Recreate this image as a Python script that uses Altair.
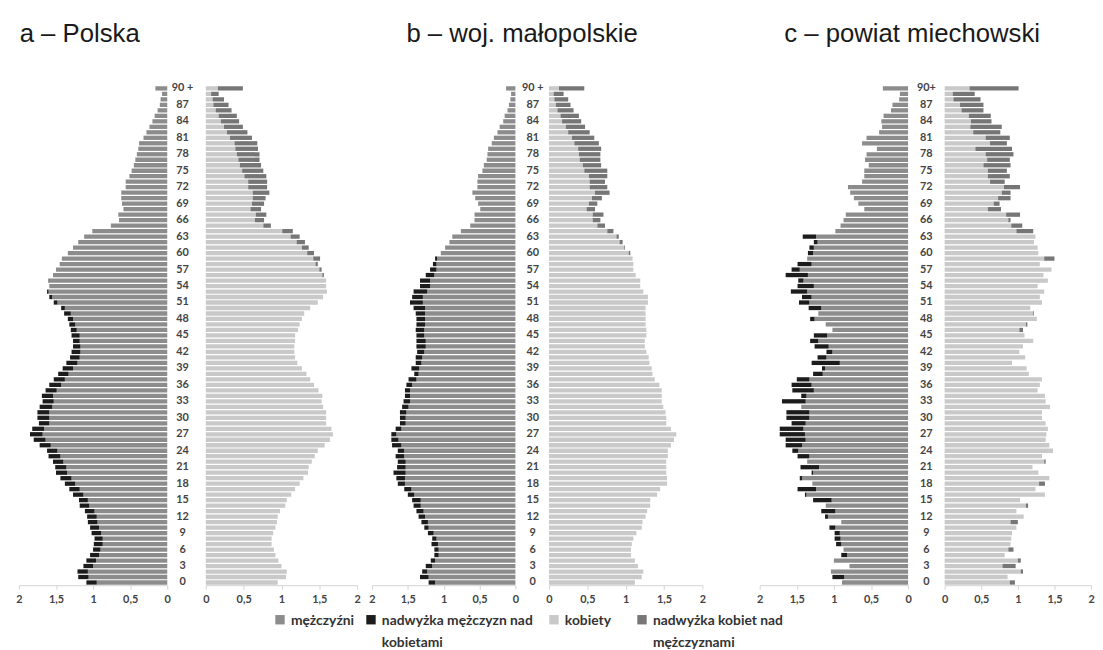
import altair as alt
import pandas as pd

ages = list(range(91))
age_ticks = list(range(0, 91, 3))
x_ticks = [0, 0.5, 1, 1.5, 2]

titles = ["a – Polska", "b – woj. małopolskie", "c – powiat miechowski"]

cats_m = ["mężczyźni", "nadwyżka mężczyzn nad kobietami"]
cats_f = ["kobiety", "nadwyżka kobiet nad mężczyznami"]
colors_m = ["#8c8c8c", "#1c1c1c"]
colors_f = ["#c9c9c9", "#767676"]

# values (% of population) for ages 0..90+
male_a = [1.09, 1.20, 1.21, 1.13, 1.09, 1.04, 1.00, 0.99, 0.98, 1.02,
          1.04, 1.07, 1.08, 1.11, 1.18, 1.19, 1.27, 1.32, 1.38, 1.44,
          1.50, 1.51, 1.54, 1.60, 1.62, 1.72, 1.80, 1.85, 1.82, 1.73,
          1.75, 1.75, 1.72, 1.68, 1.69, 1.64, 1.59, 1.53, 1.47, 1.41,
          1.36, 1.31, 1.29, 1.27, 1.27, 1.29, 1.30, 1.32, 1.34, 1.39,
          1.43, 1.53, 1.59, 1.62, 1.59, 1.60, 1.54, 1.50, 1.45, 1.42,
          1.34, 1.27, 1.20, 1.12, 1.01, 0.76, 0.65, 0.66, 0.59, 0.61,
          0.62, 0.62, 0.56, 0.56, 0.51, 0.48, 0.45, 0.43, 0.41, 0.39,
          0.38, 0.32, 0.28, 0.24, 0.20, 0.17, 0.13, 0.10, 0.09, 0.07,
          0.16]
female_a = [0.95, 1.06, 1.07, 1.00, 0.96, 0.92, 0.90, 0.87, 0.87, 0.89,
            0.92, 0.94, 0.95, 0.98, 1.05, 1.07, 1.13, 1.18, 1.24, 1.29,
            1.35, 1.36, 1.40, 1.44, 1.48, 1.57, 1.64, 1.68, 1.66, 1.59,
            1.59, 1.59, 1.55, 1.53, 1.54, 1.49, 1.43, 1.38, 1.33, 1.27,
            1.21, 1.18, 1.17, 1.17, 1.18, 1.18, 1.22, 1.24, 1.27, 1.30,
            1.38, 1.48, 1.55, 1.60, 1.59, 1.59, 1.56, 1.53, 1.48, 1.51,
            1.43, 1.36, 1.31, 1.24, 1.15, 0.86, 0.77, 0.80, 0.73, 0.77,
            0.79, 0.84, 0.81, 0.81, 0.80, 0.76, 0.73, 0.71, 0.71, 0.69,
            0.68, 0.61, 0.55, 0.49, 0.44, 0.41, 0.34, 0.30, 0.24, 0.17,
            0.49]
male_b = [1.21, 1.33, 1.30, 1.25, 1.18, 1.13, 1.13, 1.17, 1.16, 1.22,
          1.27, 1.31, 1.35, 1.38, 1.42, 1.44, 1.50, 1.55, 1.64, 1.66,
          1.70, 1.65, 1.64, 1.67, 1.64, 1.72, 1.73, 1.73, 1.67, 1.61,
          1.61, 1.61, 1.58, 1.56, 1.54, 1.54, 1.52, 1.49, 1.41, 1.45,
          1.39, 1.39, 1.37, 1.38, 1.38, 1.38, 1.39, 1.38, 1.38, 1.39,
          1.42, 1.47, 1.44, 1.42, 1.33, 1.33, 1.25, 1.19, 1.15, 1.12,
          1.04, 0.98, 0.92, 0.88, 0.76, 0.63, 0.57, 0.57, 0.49, 0.52,
          0.56, 0.60, 0.53, 0.53, 0.52, 0.46, 0.44, 0.40, 0.39, 0.38,
          0.33, 0.30, 0.25, 0.22, 0.17, 0.15, 0.11, 0.09, 0.07, 0.06,
          0.13]
female_b = [1.12, 1.21, 1.23, 1.16, 1.12, 1.07, 1.07, 1.08, 1.10, 1.14,
            1.21, 1.22, 1.26, 1.28, 1.32, 1.32, 1.41, 1.45, 1.54, 1.54,
            1.53, 1.53, 1.53, 1.55, 1.55, 1.59, 1.63, 1.66, 1.59, 1.53,
            1.53, 1.52, 1.49, 1.47, 1.47, 1.47, 1.44, 1.38, 1.35, 1.34,
            1.31, 1.30, 1.27, 1.25, 1.25, 1.27, 1.27, 1.26, 1.26, 1.26,
            1.26, 1.29, 1.29, 1.23, 1.19, 1.19, 1.13, 1.10, 1.10, 1.09,
            1.06, 0.99, 0.96, 0.91, 0.84, 0.73, 0.67, 0.71, 0.60, 0.63,
            0.69, 0.79, 0.76, 0.73, 0.76, 0.76, 0.68, 0.67, 0.67, 0.68,
            0.65, 0.59, 0.53, 0.47, 0.42, 0.39, 0.32, 0.28, 0.25, 0.19,
            0.46]
male_c = [0.89, 1.02, 1.04, 0.79, 1.00, 0.90, 0.87, 0.97, 0.99, 0.99,
          1.06, 0.90, 1.12, 1.17, 1.11, 1.28, 1.39, 1.49, 1.29, 1.46,
          1.30, 1.45, 1.36, 1.49, 1.56, 1.65, 1.65, 1.73, 1.73, 1.57,
          1.64, 1.64, 1.44, 1.70, 1.44, 1.56, 1.57, 1.50, 1.28, 1.16,
          1.30, 1.22, 1.10, 1.26, 1.32, 1.27, 1.02, 1.11, 1.32, 1.21,
          1.34, 1.47, 1.43, 1.58, 1.49, 1.48, 1.65, 1.57, 1.49, 1.36,
          1.35, 1.33, 1.27, 1.42, 0.98, 0.91, 0.87, 0.84, 0.59, 0.67,
          0.73, 0.78, 0.81, 0.62, 0.59, 0.59, 0.53, 0.58, 0.56, 0.42,
          0.62, 0.56, 0.39, 0.35, 0.36, 0.33, 0.23, 0.21, 0.12, 0.11,
          0.34]
female_c = [0.96, 0.86, 1.07, 0.97, 1.04, 0.82, 0.94, 0.90, 0.91, 0.92,
            0.98, 1.00, 1.08, 0.98, 1.14, 1.03, 1.37, 1.24, 1.37, 1.43,
            1.28, 1.20, 1.38, 1.33, 1.48, 1.43, 1.38, 1.39, 1.41, 1.38,
            1.33, 1.33, 1.44, 1.38, 1.37, 1.27, 1.30, 1.33, 1.15, 1.12,
            0.92, 1.10, 1.02, 1.07, 1.21, 1.09, 1.07, 1.13, 1.26, 1.22,
            1.17, 1.33, 1.30, 1.36, 1.27, 1.41, 1.35, 1.46, 1.30, 1.50,
            1.28, 1.27, 1.22, 1.24, 1.21, 1.06, 0.90, 1.03, 0.77, 0.75,
            0.90, 0.90, 1.03, 0.82, 0.89, 0.85, 0.90, 0.89, 0.94, 0.92,
            0.85, 0.89, 0.76, 0.78, 0.64, 0.63, 0.53, 0.53, 0.49, 0.41,
            1.01]

LABEL_FONT = "Lato"
TITLE_FONT = "Liberation Sans, Arial, sans-serif"
H = 505
# square legend swatch drawn slightly below its anchor so it lines up with the first text line
SWATCH = "M-1,0.25H1V2.25H-1Z"

LEGEND_EXPR = ("datum.label == 'nadwyżka mężczyzn nad kobietami' ? ['nadwyżka mężczyzn nad', 'kobietami'] : "
               "datum.label == 'nadwyżka kobiet nad mężczyznami' ? ['nadwyżka kobiet nad', 'mężczyznami'] : "
               "[datum.label, '']")


def make_legend(lx, pad):
    return alt.Legend(
        orient="none", legendX=lx, legendY=527, direction="horizontal", title=None,
        symbolType=SWATCH, symbolSize=90, symbolStrokeWidth=0,
        labelFont=LABEL_FONT, labelFontSize=14, labelFontWeight="bold", labelColor="#333333",
        labelLimit=300, columnPadding=pad, labelOffset=4, labelBaseline="top",
        labelExpr=LEGEND_EXPR,
    )


LEG_M = make_legend(257, 10)
LEG_F = make_legend(534, 24)
SCALE_M = alt.Scale(domain=cats_m, range=colors_m)
SCALE_F = alt.Scale(domain=cats_f, range=colors_f)


def segments(male, female):
    rm, rf = [], []
    for a, m, f in zip(ages, male, female):
        base = min(m, f)
        rm.append(dict(age=a, x0=0.0, x1=base, cat=cats_m[0]))
        if m > f:
            rm.append(dict(age=a, x0=f, x1=m, cat=cats_m[1]))
        rf.append(dict(age=a, x0=0.0, x1=base, catf=cats_f[0]))
        if f > m:
            rf.append(dict(age=a, x0=m, x1=f, catf=cats_f[1]))
    return pd.DataFrame(rm), pd.DataFrame(rf)


def x_axis():
    return alt.Axis(values=x_ticks, labelExpr="replace(format(datum.value, '~g'), '.', ',')",
                    title=None, grid=False, domainColor="#d4d4d4", tickColor="#d4d4d4",
                    tickSize=4, labelPadding=5, labelFont=LABEL_FONT, labelFontSize=11,
                    labelFontWeight="bold", labelColor="#444444", labelFlush=False)


def region(male, female, title, wm, gap, wf, dx, top_label, lpad):
    dm, df = segments(male, female)
    yscale = alt.Scale(domain=ages[::-1], paddingInner=0.22, paddingOuter=0.1)
    left = alt.Chart(dm).mark_bar().encode(
        x=alt.X("x0:Q", scale=alt.Scale(domain=[0, 2], reverse=True, nice=False), axis=x_axis()),
        x2="x1:Q",
        y=alt.Y("age:O", scale=yscale, axis=None),
        color=alt.Color("cat:N", scale=SCALE_M, legend=LEG_M),
    ).properties(width=wm, height=H)
    right = alt.Chart(df).mark_bar().encode(
        x=alt.X("x0:Q", scale=alt.Scale(domain=[0, 2], nice=False), axis=x_axis()),
        x2="x1:Q",
        y=alt.Y("age:O", scale=yscale,
                axis=alt.Axis(orient="left", values=age_ticks, title=None, domain=False, ticks=False,
                              labelExpr=f"datum.value == 90 ? '{top_label}' : datum.label",
                              labelAlign="center", labelPadding=lpad,
                              labelFont=LABEL_FONT, labelFontSize=11, labelFontWeight="bold",
                              labelColor="#444444")),
        fill=alt.Fill("catf:N", scale=SCALE_F, legend=LEG_F),
    ).properties(width=wf, height=H)
    return alt.hconcat(left, right, spacing=gap, bounds="flush",
                       title=alt.TitleParams(title, anchor="start", font=TITLE_FONT, fontSize=26,
                                             fontWeight="normal", color="#1a1a1a", dx=dx, offset=35))


ra = region(male_a, female_a, titles[0], 150, 39, 153, 4, "90 +", 24)
rb = region(male_b, female_b, titles[1], 145, 34, 155, 38, "90 +", 17)
rc = region(male_c, female_c, titles[2], 150, 37, 148, 28, "90+", 19)

chart = alt.hconcat(
    alt.hconcat(ra, rb, spacing=7), rc, spacing=50
).resolve_scale(color="shared", fill="shared").properties(
    padding={"left": 7, "top": 10, "right": 0, "bottom": 0}
).configure(background="white", style={"guide-label": {"lineHeight": 22}}).configure_view(stroke=None)

chart.save("out.html", embed_options={"renderer": "svg", "actions": False})
